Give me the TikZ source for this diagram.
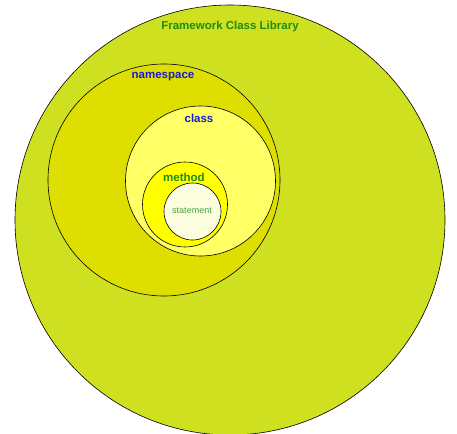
\documentclass[tikz,border=0pt]{standalone}
\usepackage{fontspec}
\setmainfont{Liberation Sans}
\usetikzlibrary{positioning}
\definecolor{library}{RGB}{206, 224, 32}
\definecolor{namesp}{RGB}{222, 222, 0}
\definecolor{classfill}{RGB}{255, 255, 102}
\definecolor{methodfill}{RGB}{255, 255, 0}
\definecolor{stmtfill}{RGB}{252, 252, 222}
\definecolor{txtgreen}{RGB}{30, 140, 20}
\definecolor{txtblue}{RGB}{25, 25, 215}

\begin{document}
\begin{tikzpicture}[x=1pt, y=-1pt,
            ring/.style={circle, draw=black, line width=0.6pt, inner sep=0pt},
            title/.style={font=\fontsize{11.5}{13}\selectfont\bfseries},
            small/.style={font=\fontsize{9}{11}\selectfont}
        ]
            \fill[white] (0,0) rectangle (457,433);
            \clip (0,0) rectangle (457,433);

            % nested circles, outside to inside
            \node[ring, fill=library, minimum size=430pt] (fcl) at (230,220) {};
            \node[ring, fill=namesp, minimum size=232pt] (ns) at (164,180) {};
            \node[ring, fill=classfill, minimum size=150pt] (cls) at (200.5,181) {};
            \node[ring, fill=methodfill, minimum size=85pt] (meth) at (185,204.5) {};
            \node[ring, fill=stmtfill, minimum size=57pt] (stmt) at (192.5,211.5) {};

            % labels
            \node[title, text=txtgreen] (fcllbl) at (230,27) {Framework Class Library};
            \node[title, text=txtblue] (nslbl) at (163,77) {namespace};
            \node[title, text=txtblue] (clslbl) at (199,118) {class};
            \node[title, text=txtgreen] (methlbl) at (184,177) {method};
            \node[small, text=txtgreen!80] (stmtlbl) at (192,211) {statement};
        \end{tikzpicture}
\end{document}
